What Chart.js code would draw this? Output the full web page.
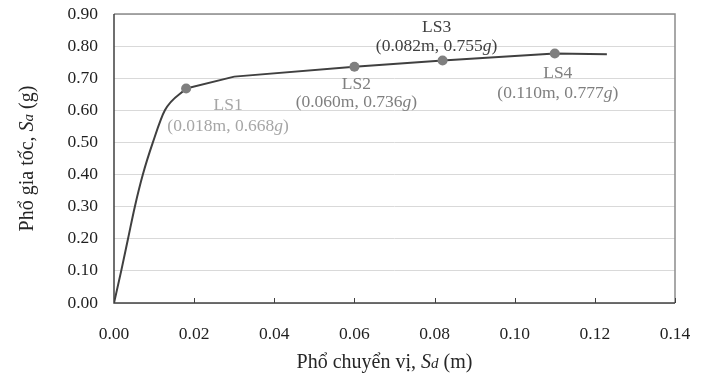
<!DOCTYPE html>
<html>
<head>
<meta charset="utf-8">
<script src="https://cdn.jsdelivr.net/npm/chart.js@4/dist/chart.umd.min.js"></script>
<style>
  body { margin: 0; background: #fff; }
  #wrap { width: 706px; height: 377px; position: relative; }
</style>
</head>
<body>
<div id="wrap"><canvas id="spectrumChart"></canvas></div>
<script>
// capacity curve
var sdValues = [0, 0.0018, 0.0035, 0.0052, 0.0072, 0.0097, 0.0127, 0.018, 0.030, 0.060, 0.082, 0.110, 0.123];
var saValues = [0, 0.10, 0.20, 0.30, 0.40, 0.50, 0.60, 0.668, 0.705, 0.736, 0.755, 0.777, 0.775];
var bendIndex = 7; // smooth rise up to LS1, straight segments after

// limit states
var lsNames = ['LS1', 'LS2', 'LS3', 'LS4'];
var lsSd = [0.018, 0.060, 0.082, 0.110];
var lsSa = [0.668, 0.736, 0.755, 0.777];

var xTicks = [0, 0.02, 0.04, 0.06, 0.08, 0.10, 0.12, 0.14];
var yTicks = [0, 0.1, 0.2, 0.3, 0.4, 0.5, 0.6, 0.7, 0.8, 0.9];

var serif = '"Liberation Serif", "Times New Roman", serif';

function drawRich(ctx, parts, x, y, align) {
    var total = 0;
    parts.forEach(function (p) {
        ctx.font = (p.italic ? 'italic ' : '') + p.size + 'px ' + serif;
        p.w = ctx.measureText(p.t).width;
        total += p.w;
    });
    var cx = align === 'center' ? x - total / 2 : x;
    ctx.textAlign = 'left';
    ctx.textBaseline = 'middle';
    parts.forEach(function (p) {
        ctx.font = (p.italic ? 'italic ' : '') + p.size + 'px ' + serif;
        ctx.fillText(p.t, cx, y + (p.dy || 0));
        cx += p.w;
    });
}

// label offsets (px) from each limit state point
var labelStyle = [
    { color: '#a6a6a6', dx: 42, dy1: 17, dy2: 38 },
    { color: '#7f7f7f', dx: 2, dy1: 18, dy2: 36 },
    { color: '#404040', dx: -6, dy1: -33, dy2: -14 },
    { color: '#7f7f7f', dx: 3, dy1: 20, dy2: 40 }
];

var decorPlugin = {
    id: 'decor',
    afterDatasetsDraw: function (chart) {
        var ctx = chart.ctx, a = chart.chartArea;
        var xs = chart.scales.x, ys = chart.scales.y;
        ctx.save();
        // frame
        ctx.lineWidth = 1.5;
        ctx.strokeStyle = '#8c8c8c';
        ctx.beginPath();
        ctx.moveTo(a.left, a.top); ctx.lineTo(a.right, a.top); ctx.lineTo(a.right, a.bottom);
        ctx.stroke();
        ctx.strokeStyle = '#404040';
        ctx.beginPath();
        ctx.moveTo(a.left, a.top); ctx.lineTo(a.left, a.bottom); ctx.lineTo(a.right, a.bottom);
        ctx.stroke();
        // inward tick marks on x axis
        ctx.lineWidth = 1;
        xTicks.forEach(function (v) {
            var px = Math.round(xs.getPixelForValue(v)) + 0.5;
            ctx.beginPath();
            ctx.moveTo(px, a.bottom);
            ctx.lineTo(px, a.bottom - 5);
            ctx.stroke();
        });
        // limit state labels
        lsNames.forEach(function (name, i) {
            var st = labelStyle[i];
            var px = xs.getPixelForValue(lsSd[i]);
            var py = ys.getPixelForValue(lsSa[i]);
            ctx.fillStyle = st.color;
            drawRich(ctx, [{ t: name, size: 17.5 }], px + st.dx, py + st.dy1, 'center');
            drawRich(ctx, [
                { t: '(' + lsSd[i].toFixed(3) + 'm, ' + lsSa[i].toFixed(3), size: 17.5 },
                { t: 'g', size: 17.5, italic: true },
                { t: ')', size: 17.5 }
            ], px + st.dx, py + st.dy2, 'center');
        });
        // axis titles
        ctx.fillStyle = '#262626';
        drawRich(ctx, [
            { t: 'Phổ chuyển vị, ', size: 20 },
            { t: 'S', size: 20, italic: true },
            { t: 'd', size: 15, italic: true, dy: 1 },
            { t: ' (m)', size: 20 }
        ], (a.left + a.right) / 2 - 10, 363, 'center');
        ctx.translate(28, (a.top + a.bottom) / 2);
        ctx.rotate(-Math.PI / 2);
        drawRich(ctx, [
            { t: 'Phổ gia tốc, ', size: 20 },
            { t: 'S', size: 20, italic: true },
            { t: 'a', size: 15, italic: true, dy: 1 },
            { t: ' (g)', size: 20 }
        ], 0, 0, 'center');
        ctx.restore();
    }
};

var curve = sdValues.map(function (x, i) { return { x: x, y: saValues[i] }; });
var lsPoints = lsSd.map(function (x, i) { return { x: x, y: lsSa[i] }; });

var ctx = document.getElementById('spectrumChart').getContext('2d');
var spectrumChart = new Chart(ctx, {
    type: 'scatter',
    data: {
        datasets: [{
            label: 'LS',
            data: lsPoints,
            showLine: false,
            pointRadius: 5,
            pointBackgroundColor: '#7f7f7f',
            pointBorderWidth: 0
        }, {
            label: 'Rise',
            data: curve.slice(0, bendIndex + 1),
            showLine: true,
            borderColor: '#404040',
            borderWidth: 2,
            pointRadius: 0,
            cubicInterpolationMode: 'monotone'
        }, {
            label: 'Plateau',
            data: curve.slice(bendIndex),
            showLine: true,
            borderColor: '#404040',
            borderWidth: 2,
            pointRadius: 0,
            tension: 0
        }]
    },
    options: {
        responsive: true,
        maintainAspectRatio: false,
        animation: false,
        layout: { padding: { top: 14, right: 31, left: 0, bottom: 0 } },
        plugins: { legend: { display: false }, tooltip: { enabled: false } },
        scales: {
            x: {
                type: 'linear',
                min: 0,
                max: 0.14,
                afterFit: function (s) { s.height = 74; s.paddingLeft = 0; s.paddingRight = 0; },
                afterBuildTicks: function (s) { s.ticks = xTicks.map(function (v) { return { value: v }; }); },
                grid: { display: false },
                border: { display: false },
                ticks: {
                    padding: 13,
                    color: '#1f1f1f',
                    font: { family: serif, size: 17.5 },
                    maxRotation: 0,
                    callback: function (v) { return Number(v).toFixed(2); }
                }
            },
            y: {
                min: 0,
                max: 0.9,
                afterFit: function (s) { s.width = 114; s.paddingTop = 0; s.paddingBottom = 0; },
                afterBuildTicks: function (s) { s.ticks = yTicks.map(function (v) { return { value: v }; }); },
                grid: { color: '#d9d9d9', lineWidth: 1, drawTicks: false },
                border: { display: false },
                ticks: {
                    padding: 16,
                    color: '#1f1f1f',
                    font: { family: serif, size: 17.5 },
                    callback: function (v) { return Number(v).toFixed(2); }
                }
            }
        }
    },
    plugins: [decorPlugin]
});
</script>
</body>
</html>
